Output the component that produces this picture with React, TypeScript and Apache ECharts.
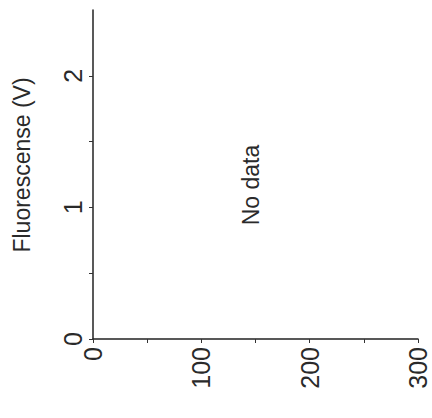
import React, { useEffect, useRef } from "react";
import * as echarts from "echarts";

const xTickValues = [0, 50, 100, 150, 200, 250, 300];
const xLabelValues = [0, 100, 200, 300];
const yTickValues = [0, 0.5, 1, 1.5, 2];
const yLabelValues = [0, 1, 2];
const seriesData: number[][] = [];
const yAxisTitle = "Fluorescense (V)";
const emptyText = "No data";

export default function App() {
  const ref = useRef<HTMLDivElement>(null);
  useEffect(() => {
    document.body.style.margin = "0";
    const chart = echarts.init(ref.current!, null, { renderer: "svg" });
    const font = "Liberation Sans, Arial, sans-serif";
    chart.setOption({
      animation: false,
      backgroundColor: "#ffffff",
      grid: { left: 93, top: 10, right: 14, bottom: 79 },
      xAxis: {
        type: "value",
        min: 0,
        max: 300,
        interval: 50,
        axisLine: { show: true, onZero: false, lineStyle: { color: "#222", width: 1.5 } },
        axisTick: { show: true, length: 4, customValues: xTickValues, lineStyle: { color: "#333" } },
        axisLabel: {
          customValues: xLabelValues,
          rotate: 90,
          margin: 8,
          color: "#2a2a2a",
          fontSize: 25,
          fontFamily: font,
        },
        splitLine: { show: false },
      },
      yAxis: {
        type: "value",
        min: 0,
        max: 2.5,
        interval: 0.5,
        axisLine: { show: true, onZero: false, lineStyle: { color: "#222", width: 1.5 } },
        axisTick: { show: true, length: 4, customValues: yTickValues, lineStyle: { color: "#333" } },
        axisLabel: {
          customValues: yLabelValues,
          rotate: 90,
          margin: 8,
          color: "#2a2a2a",
          fontSize: 25,
          fontFamily: font,
        },
        splitLine: { show: false },
      },
      series: [{ type: "line", data: seriesData }],
      graphic: [
        {
          type: "text",
          x: 22,
          y: 165,
          rotation: Math.PI / 2,
          style: {
            text: yAxisTitle,
            fill: "#2a2a2a",
            fontSize: 23,
            fontFamily: font,
            align: "center",
            verticalAlign: "middle",
          },
        },
        {
          type: "text",
          x: 251,
          y: 185,
          rotation: Math.PI / 2,
          style: {
            text: emptyText,
            fill: "#2a2a2a",
            fontSize: 23,
            fontFamily: font,
            align: "center",
            verticalAlign: "middle",
          },
        },
      ],
    });
    return () => chart.dispose();
  }, []);
  return (
    <div
      ref={ref}
      style={{ position: "absolute", left: 0, top: 0, width: 432, height: 418 }}
    />
  );
}
